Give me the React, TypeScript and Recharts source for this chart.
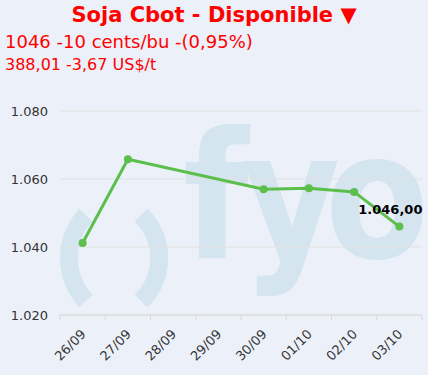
import React from 'react';
import { LineChart, Line, XAxis, YAxis, CartesianGrid, LabelList } from 'recharts';

const dates = ['26/09', '27/09', '28/09', '29/09', '30/09', '01/10', '02/10', '03/10'];
const prices: (number | null)[] = [1041.2, 1065.8, null, null, 1057, 1057.3, 1056.2, 1046];
const yTicks = [1020, 1040, 1060, 1080];

const data = dates.map((d, i) => ({ i, date: d, price: prices[i] }));
const labelTicks = dates.map((_, i) => i);

const FONT = '"DejaVu Sans", Verdana, sans-serif';
const BG = '#ecf0f9';
const WM = '#d5e5f0';
const GREEN = '#5cbf4c';
const AXIS = '#d8d8d8';

const W = 428;
const H = 375;
const MARGIN = { top: 111, right: 6, left: 0, bottom: 0 };
const Y_W = 60;
const X_H = 60;
const STEP = (W - MARGIN.right - Y_W) / dates.length;

const thousands = (n: string) => n.replace(/\B(?=(\d{3})+(?!\d))/g, '.');
const fmtTick = (v: number) => thousands(String(v));
const fmtValue = (v: number) => {
  const [a, b] = v.toFixed(2).split('.');
  return thousands(a) + ',' + b;
};

// label centred on the category, tick marks on the category borders
function XTick(props: any) {
  const { x, y, payload, index } = props;
  const tx = x + 4;
  const ty = y + 20;
  const left = x - STEP / 2;
  const right = x + STEP / 2;
  return (
    <g>
      <line x1={left} x2={left} y1={y} y2={y + 5} stroke={AXIS} />
      {index === dates.length - 1 && <line x1={right} x2={right} y1={y} y2={y + 5} stroke={AXIS} />}
      <text
        x={tx}
        y={ty}
        transform={`rotate(-45, ${tx}, ${ty})`}
        textAnchor="end"
        fontSize={13}
        fill="#333"
        fontFamily={FONT}
      >
        {dates[payload.value]}
      </text>
    </g>
  );
}

function LastLabel(props: any) {
  const { x, y, value, index } = props;
  if (index !== dates.length - 1 || value == null) return null;
  return (
    <text x={x - 9} y={y - 13} textAnchor="middle" fontSize={13} fontWeight="bold" fill="#000" fontFamily={FONT}>
      {fmtValue(value)}
    </text>
  );
}

// background logo: ( ) fyo
const logoLetters = [
  { ch: 'f', cx: 216 },
  { ch: 'y', cx: 291 },
  { ch: 'o', cx: 377 },
];

function Watermark() {
  return (
    <svg width={W} height={H} style={{ position: 'absolute', left: 0, top: 0 }}>
      <path d="M 86 215 A 63 63 0 0 0 86 301" fill="none" stroke={WM} strokeWidth={18} />
      <path d="M 141 215 A 60 60 0 0 1 141 301" fill="none" stroke={WM} strokeWidth={18} />
      {logoLetters.map((l) => (
        <text
          key={l.ch}
          transform={`translate(${l.cx}, 258) scale(0.86, 1)`}
          textAnchor="middle"
          fontSize={176}
          fontWeight="bold"
          fill={WM}
          fontFamily={FONT}
        >
          {l.ch}
        </text>
      ))}
    </svg>
  );
}

export default function App() {
  return (
    <div
      style={{
        position: 'fixed',
        left: 0,
        top: 0,
        width: W,
        height: H,
        background: BG,
        fontFamily: FONT,
        overflow: 'hidden',
      }}
    >
      <Watermark />
      <div style={{ position: 'absolute', left: 0, top: 0 }}>
        <LineChart width={W} height={H} data={data} margin={MARGIN}>
          <CartesianGrid vertical={false} stroke="#e2e2e2" />
          <XAxis
            type="number"
            dataKey="i"
            domain={[-0.5, dates.length - 0.5]}
            ticks={labelTicks}
            tick={<XTick />}
            axisLine={{ stroke: AXIS }}
            tickLine={false}
            tickSize={0}
            tickMargin={0}
            height={X_H}
            interval={0}
          />
          <YAxis
            domain={[1020, 1080]}
            ticks={yTicks}
            tickFormatter={fmtTick}
            axisLine={false}
            tickLine={false}
            width={Y_W}
            tickMargin={6}
            tick={{ fontSize: 13, fill: '#333', fontFamily: FONT }}
          />
          <Line
            dataKey="price"
            stroke={GREEN}
            strokeWidth={3}
            dot={{ r: 4, fill: GREEN, stroke: 'none' }}
            connectNulls
            isAnimationActive={false}
          >
            <LabelList dataKey="price" content={<LastLabel />} />
          </Line>
        </LineChart>
      </div>
      <div style={{ position: 'absolute', left: 0, top: 3, width: W, textAlign: 'center', color: '#ff0000', fontSize: 21, fontWeight: 'bold', lineHeight: '24px' }}>
        Soja Cbot - Disponible ▼
      </div>
      <div style={{ position: 'absolute', left: 5, top: 31, color: '#ff0000', fontSize: 18, lineHeight: '22px' }}>
        1046 -10 cents/bu -(0,95%)
      </div>
      <div style={{ position: 'absolute', left: 5, top: 56, color: '#ff0000', fontSize: 16, lineHeight: '18px' }}>
        388,01 -3,67 US$/t
      </div>
    </div>
  );
}
